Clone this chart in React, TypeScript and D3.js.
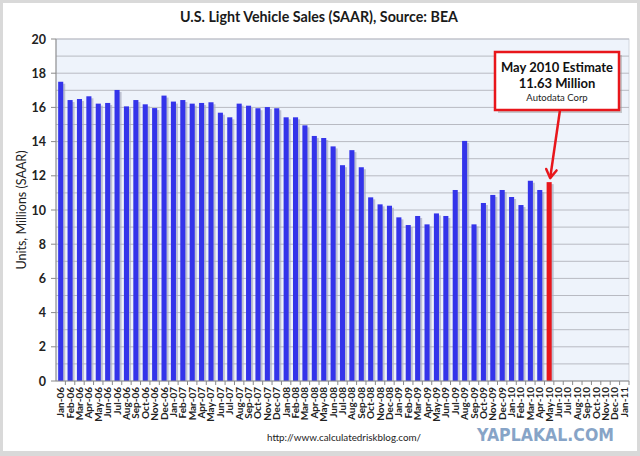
import React from "react";
import * as d3 from "d3";

const months = ["Jan","Feb","Mar","Apr","May","Jun","Jul","Aug","Sep","Oct","Nov","Dec"];
const years = ["06","07","08","09","10"];
const categories: string[] = [
  ...years.flatMap((y) => months.map((m) => `${m}-${y}`)),
  "Jan-11",
];

const sales: (number | null)[] = [
  17.5, 16.43, 16.49, 16.65, 16.22, 16.26, 17.02, 16.06, 16.43, 16.18, 15.96, 16.69,
  16.34, 16.43, 16.22, 16.26, 16.3, 15.69, 15.42, 16.22, 16.1, 15.95, 16.02, 15.95,
  15.42, 15.42, 14.95, 14.33, 14.21, 13.72, 12.62, 13.5, 12.5, 10.74, 10.33, 10.25,
  9.57, 9.12, 9.65, 9.16, 9.8, 9.65, 11.17, 14.04, 9.16, 10.41, 10.88, 11.17,
  10.76, 10.29, 11.71, 11.17, 11.63, null, null, null, null, null, null, null,
  null,
];

const estimateIndex = 52;
const yTicks = [0, 2, 4, 6, 8, 10, 12, 14, 16, 18, 20];
const gridValues = d3.range(1, 21);

const W = 640, H = 456;
const plot = { left: 56, right: 629, top: 39, bottom: 381 };
const font = "Lato, 'Open Sans', sans-serif";

export default function App() {
  const x = d3.scaleBand<string>().domain(categories).range([plot.left, plot.right]).paddingInner(0.46).paddingOuter(0.23);
  const y = d3.scaleLinear().domain([0, 20]).range([plot.bottom, plot.top]);
  const step = x.step();
  const bw = x.bandwidth();

  const estX = (x(categories[estimateIndex]) as number) + bw / 2;
  const estY = y(sales[estimateIndex] as number);

  const box = { x: 495, y: 52, w: 124, h: 58 };
  const arrowStart = { x: 560, y: box.y + box.h };
  const arrowEnd = { x: estX + 1, y: estY - 4 };
  const ang = Math.atan2(arrowEnd.y - arrowStart.y, arrowEnd.x - arrowStart.x);
  const ah = 10, aw = 0.55;
  const p1 = [arrowEnd.x - ah * Math.cos(ang - aw), arrowEnd.y - ah * Math.sin(ang - aw)];
  const p2 = [arrowEnd.x - ah * Math.cos(ang + aw), arrowEnd.y - ah * Math.sin(ang + aw)];

  return (
    <svg width={W} height={H} style={{ position: "absolute", left: 0, top: 0 }}>
      <rect x={0} y={0} width={W} height={H} fill="#d9d9d9" />
      <rect x={3} y={3} width={634} height={448} fill="#ffffff" />
      <text x={180} y={22} textLength={278} lengthAdjust="spacingAndGlyphs" fontFamily={font} fontWeight="bold" fontSize={15.5} fill="#1a1a1a">
        U.S. Light Vehicle Sales (SAAR), Source: BEA
      </text>
      <rect x={plot.left} y={plot.top} width={plot.right - plot.left} height={plot.bottom - plot.top} fill="#eef3fb" stroke="#c8ccd6" strokeWidth={0.8} />
      {gridValues.map((g) => (
        <line key={g} x1={plot.left} x2={plot.right} y1={y(g)} y2={y(g)} stroke="#b8bac2" strokeWidth={1} />
      ))}
      {sales.map((v, i) =>
        v == null ? null : (
          <g key={i}>
            <rect x={(x(categories[i]) as number) + 2} y={y(v) + 2} width={bw} height={plot.bottom - y(v) - 2} fill="#a9acbf" opacity={0.7} />
            <rect x={x(categories[i]) as number} y={y(v)} width={bw} height={plot.bottom - y(v)} fill={i === estimateIndex ? "#e8161b" : "#3434ea"} />
          </g>
        )
      )}
      <line x1={plot.left} x2={plot.left} y1={plot.top} y2={plot.bottom} stroke="#8a8a8a" />
      <line x1={plot.left} x2={plot.right} y1={plot.bottom} y2={plot.bottom} stroke="#8a8a8a" />
      {yTicks.map((t) => (
        <g key={t}>
          <line x1={plot.left - 5} x2={plot.left} y1={y(t)} y2={y(t)} stroke="#8a8a8a" />
          <text x={plot.left - 10} y={y(t) + 4.5} textAnchor="end" fontFamily={font} fontWeight="bold" fontSize={12.5} fill="#222">{t}</text>
        </g>
      ))}
      {categories.map((c, i) => (
        <line key={"t" + i} x1={plot.left + step * (i + 1)} x2={plot.left + step * (i + 1)} y1={plot.bottom} y2={plot.bottom + 4} stroke="#8a8a8a" />
      ))}
      {categories.map((c) => {
        const cx = (x(c) as number) + bw / 2 + 3.5;
        return (
          <text key={c} transform={`translate(${cx},${plot.bottom + 6}) rotate(-90)`} textAnchor="end" fontFamily={font} fontWeight="bold" fontSize={10} fill="#222">{c}</text>
        );
      })}
      <text transform={`translate(26,${(plot.top + plot.bottom) / 2}) rotate(-90)`} textAnchor="middle" fontFamily={font} fontSize={12.5} fill="#222">
        Units, Millions (SAAR)
      </text>
      <text x={267} y={441} textLength={154} lengthAdjust="spacingAndGlyphs" fontFamily={font} fontSize={10} fill="#222">http://www.calculatedriskblog.com/</text>
      <text x={477} y={441} textLength={137} lengthAdjust="spacingAndGlyphs" fontFamily="'DejaVu Sans', sans-serif" fontWeight="bold" fontSize={18} fill="#7b9bc2" opacity={0.9}>YAPLAKAL.COM</text>
      <rect x={box.x + 3} y={box.y + 3} width={box.w} height={box.h} fill="#9a9a9a" opacity={0.5} />
      <rect x={box.x} y={box.y} width={box.w} height={box.h} fill="#ffffff" stroke="#e8161b" strokeWidth={2.5} />
      <text x={box.x + box.w / 2} y={72} textAnchor="middle" fontFamily={font} fontWeight="bold" fontSize={13} fill="#111">May 2010 Estimate</text>
      <text x={box.x + box.w / 2} y={88} textAnchor="middle" fontFamily={font} fontWeight="bold" fontSize={13} fill="#111">11.63 Million</text>
      <text x={box.x + box.w / 2} y={101} textAnchor="middle" fontFamily={font} fontSize={9.5} fill="#222">Autodata Corp</text>
      <line x1={arrowStart.x} y1={arrowStart.y} x2={arrowEnd.x} y2={arrowEnd.y} stroke="#e8161b" strokeWidth={2.5} />
      <polyline points={`${p1[0]},${p1[1]} ${arrowEnd.x},${arrowEnd.y} ${p2[0]},${p2[1]}`} fill="none" stroke="#e8161b" strokeWidth={2.5} strokeLinecap="round" strokeLinejoin="round" />
    </svg>
  );
}
